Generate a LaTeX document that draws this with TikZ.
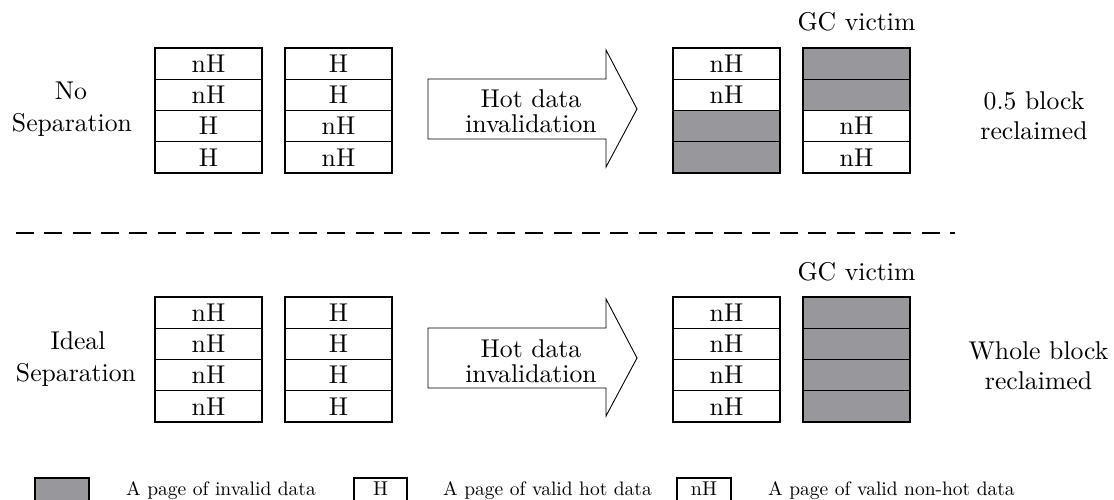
\documentclass[tikz,border=0pt]{standalone}
\usepackage{fontspec}
\setmainfont{lmroman10-regular.otf}
\usepackage{tikz}
\definecolor{invgray}{RGB}{152,152,156}
\tikzset{
  cell/.style={draw,minimum width=107pt,minimum height=31.25pt,inner sep=0pt,outer sep=0pt,line width=1.1pt},
  bad/.style={cell,fill=invgray},
  txt/.style={anchor=base,inner sep=0pt,font=\fontsize{25.7}{30}\selectfont},
  arrowbody/.style={draw,line width=0.9pt},
  legtext/.style={anchor=base west,inner sep=0pt,font=\fontsize{19.5}{22}\selectfont},
  legline/.style={draw,line width=1.1pt},
  legkey/.style={anchor=base,inner sep=0pt,font=\fontsize{20}{22}\selectfont}
}
\begin{document}
\begin{tikzpicture}[x=1pt,y=-1pt,font=\fontsize{25.7}{30}\selectfont]
\useasboundingbox (0,0) rectangle (1114,500);
% ---------- top ----------
\node[txt] (lab1a) at (71,100) {No};
\node[txt] (lab1b) at (72,132) {Separation};
\node[cell] (a1) at (208.5,63.6) {nH};
\node[cell] (a2) at (208.5,94.9) {nH};
\node[cell] (a3) at (208.5,126.1) {H};
\node[cell] (a4) at (208.5,157.4) {H};
\node[cell] (b1) at (338.5,63.6) {H};
\node[cell] (b2) at (338.5,94.9) {H};
\node[cell] (b3) at (338.5,126.1) {nH};
\node[cell] (b4) at (338.5,157.4) {nH};
\draw[arrowbody] (428,79) -- (606,79) -- (606,50) -- (637,109) -- (606,167) -- (606,139) -- (428,139) -- cycle;
\node[txt] (ar1a) at (531,108) {Hot data};
\node[txt] (ar1b) at (531,133) {invalidation};
\node[cell] (c1) at (726.5,63.6) {nH};
\node[cell] (c2) at (726.5,94.9) {nH};
\node[bad] (c3) at (726.5,126.1) {};
\node[bad] (c4) at (726.5,157.4) {};
\node[bad] (d1) at (856.5,63.6) {};
\node[bad] (d2) at (856.5,94.9) {};
\node[cell] (d3) at (856.5,126.1) {nH};
\node[cell] (d4) at (856.5,157.4) {nH};
\node[txt] (gc1) at (856.5,31) {GC victim};
\node[txt] (res1a) at (1034,110) {0.5 block};
\node[txt] (res1b) at (1034,140) {reclaimed};
% ---------- separator ----------
\draw[line width=2.2pt,dash pattern=on 18pt off 10.3pt] (16,233) -- (955,233);
% ---------- bottom ----------
\node[txt] (lab2a) at (78,349) {Ideal};
\node[txt] (lab2b) at (76,381) {Separation};
\node[cell] (e1) at (208.5,312.6) {nH};
\node[cell] (e2) at (208.5,343.9) {nH};
\node[cell] (e3) at (208.5,375.1) {nH};
\node[cell] (e4) at (208.5,406.4) {nH};
\node[cell] (f1) at (338.5,312.6) {H};
\node[cell] (f2) at (338.5,343.9) {H};
\node[cell] (f3) at (338.5,375.1) {H};
\node[cell] (f4) at (338.5,406.4) {H};
\draw[arrowbody] (428,328) -- (606,328) -- (606,299) -- (637,358) -- (606,416) -- (606,388) -- (428,388) -- cycle;
\node[txt] (ar2a) at (531,357) {Hot data};
\node[txt] (ar2b) at (531,382) {invalidation};
\node[cell] (g1) at (726.5,312.6) {nH};
\node[cell] (g2) at (726.5,343.9) {nH};
\node[cell] (g3) at (726.5,375.1) {nH};
\node[cell] (g4) at (726.5,406.4) {nH};
\node[bad] (h1) at (856.5,312.6) {};
\node[bad] (h2) at (856.5,343.9) {};
\node[bad] (h3) at (856.5,375.1) {};
\node[bad] (h4) at (856.5,406.4) {};
\node[txt] (gc2) at (856.5,280) {GC victim};
\node[txt] (res2a) at (1038.5,359) {Whole block};
\node[txt] (res2b) at (1038.5,389) {reclaimed};
% ---------- legend ----------
\fill[invgray] (35,478) rectangle (89,506);
\draw[legline] (35,506) -- (35,478) -- (89,478) -- (89,506);
\node[legtext] (t1) at (126,495) {A page of invalid data};
\draw[legline] (354,506) -- (354,478) -- (407,478) -- (407,506);
\node[legkey] (k2) at (380.5,495) {H};
\node[legtext] (t2) at (443,495) {A page of valid hot data};
\draw[legline] (677,506) -- (677,478) -- (731,478) -- (731,506);
\node[legkey] (k3) at (704,495) {nH};
\node[legtext] (t3) at (768,495) {A page of valid non-hot data};
\end{tikzpicture}
\end{document}
